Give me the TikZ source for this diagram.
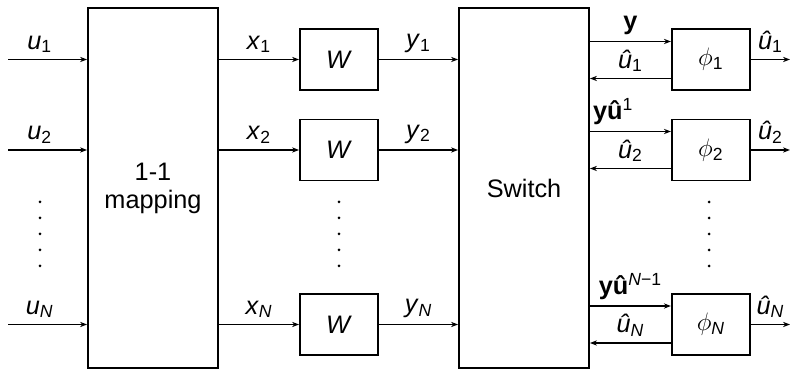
\documentclass[tikz,border=0pt]{standalone}
\usepackage{fontspec}
\setmainfont{Liberation Sans}
\usetikzlibrary{arrows.meta, positioning, calc}

\begin{document}
\begin{tikzpicture}[
  x=0.02cm, y=0.02cm,
  bigblock/.style={rectangle, draw, line width=1.1pt, minimum width=2.6cm, minimum height=7.2cm, align=center, inner sep=0pt},
  wblock/.style={rectangle, draw, line width=1.1pt, minimum width=1.56cm, minimum height=1.22cm, inner sep=0pt},
  every node/.style={font=\fontsize{14.4}{16}\selectfont},
  arrow/.style={-{Stealth[length=4pt,width=3pt]}, line width=0.8pt}
]
\useasboundingbox (0,0) rectangle (800,377);

% ------------------------------------------------------------
% Main blocks
% ------------------------------------------------------------

\node[bigblock] (map) at (153,189) {1-1\\mapping};
\node[bigblock] (sw) at (524,189) {Switch};

% ------------------------------------------------------------
% W blocks and decoders
% ------------------------------------------------------------

\node[wblock] (W1) at (339,317.5) {\textit{W}};
\node[wblock] (W2) at (339,227) {\textit{W}};
\node[wblock] (WN) at (339,52.5) {\textit{W}};

\node[wblock, right=5.84cm of W1] (phi1) {$\phi$\textsubscript{1}};
\node[wblock, right=5.84cm of W2] (phi2) {$\phi$\textsubscript{2}};
\node[wblock, right=5.84cm of WN] (phiN) {$\phi$\textsubscript{\textit{N}}};

% vertical dots
\foreach \x in {40,339,709}
  \foreach \y in {175,159,143,127,111}
    \fill (\x,\y) circle (1.5);

% ------------------------------------------------------------
% Inputs and mapping outputs
% ------------------------------------------------------------

\coordinate (in1) at (W1.west -| 8,0);
\coordinate (in2) at (W2.west -| 8,0);
\coordinate (inN) at (WN.west -| 8,0);

\draw[arrow] (in1) -- node[above, pos=0.4] {\textit{u}\textsubscript{1}} (in1 -| map.west);
\draw[arrow] (in2) -- node[above, pos=0.4] {\textit{u}\textsubscript{2}} (in2 -| map.west);
\draw[arrow] (inN) -- node[above, pos=0.4] {\textit{u}\textsubscript{\textit{N}}} (inN -| map.west);

\draw[arrow] (W1.west -| map.east) -- node[above] {\textit{x}\textsubscript{1}} (W1.west);
\draw[arrow] (W2.west -| map.east) -- node[above] {\textit{x}\textsubscript{2}} (W2.west);
\draw[arrow] (WN.west -| map.east) -- node[above] {\textit{x}\textsubscript{\textit{N}}} (WN.west);

\draw[arrow] (W1.east) -- node[above] {\textit{y}\textsubscript{1}} (W1.east -| sw.west);
\draw[arrow] (W2.east) -- node[above] {\textit{y}\textsubscript{2}} (W2.east -| sw.west);
\draw[arrow] (WN.east) -- node[above] {\textit{y}\textsubscript{\textit{N}}} (WN.east -| sw.west);

% ------------------------------------------------------------
% Switch to decoders and back
% ------------------------------------------------------------

\coordinate (f1) at ([yshift=0.36cm]phi1.west);
\coordinate (f2) at ([yshift=0.37cm]phi2.west);
\coordinate (fN) at ([yshift=0.37cm]phiN.west);
\coordinate (b1) at ([yshift=-0.38cm]phi1.west);
\coordinate (b2) at ([yshift=-0.37cm]phi2.west);
\coordinate (bN) at ([yshift=-0.37cm]phiN.west);

\draw[arrow] (f1 -| sw.east) -- node[above] {\textbf{y}} (f1);
\draw[arrow] (f2 -| sw.east) -- node[above right, pos=0, xshift=-2pt] {\textbf{yû}\textsuperscript{1}} (f2);
\draw[arrow] (fN -| sw.east) -- node[above] {\textbf{yû}\textsuperscript{\textit{N}−1}} (fN);

\draw[arrow] (b1) -- node[above] {\textit{û}\textsubscript{1}} (b1 -| sw.east);
\draw[arrow] (b2) -- node[above] {\textit{û}\textsubscript{2}} (b2 -| sw.east);
\draw[arrow] (bN) -- node[above] {\textit{û}\textsubscript{\textit{N}}} (bN -| sw.east);

% ------------------------------------------------------------
% Estimates
% ------------------------------------------------------------

\coordinate (out1) at (phi1.east -| 790,0);
\coordinate (out2) at (phi2.east -| 790,0);
\coordinate (outN) at (phiN.east -| 790,0);

\draw[arrow] (phi1.east) -- node[above] {\textit{û}\textsubscript{1}} (out1);
\draw[arrow] (phi2.east) -- node[above] {\textit{û}\textsubscript{2}} (out2);
\draw[arrow] (phiN.east) -- node[above] {\textit{û}\textsubscript{\textit{N}}} (outN);

\end{tikzpicture}
\end{document}
